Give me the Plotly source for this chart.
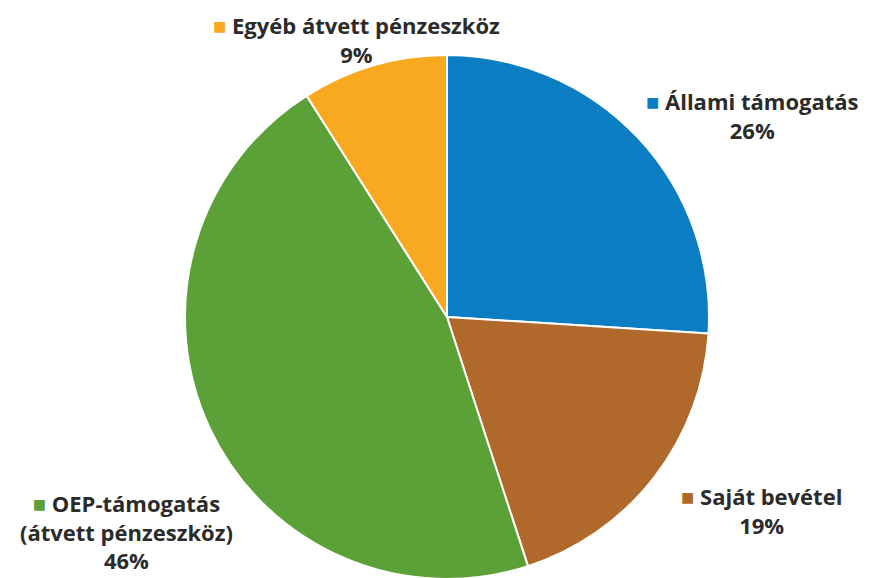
import plotly.graph_objects as go

labels = ["Állami támogatás", "Saját bevétel", "OEP-támogatás<br>(átvett pénzeszköz)", "Egyéb átvett pénzeszköz"]
values = [26, 19, 46, 9]
colors = ["#0a7dc3", "#b0692a", "#5ca137", "#f8a91f"]

W, H = 879, 578
OFF = 8  # page body margin
# label anchor positions in page pixels (center x, center y of the text block)
label_pos = [(752, 116), (761, 510), (126, 531), (356, 39)]

fig = go.Figure(go.Pie(
    labels=labels, values=values, sort=False, direction="clockwise", rotation=0,
    marker=dict(colors=colors, line=dict(color="white", width=2)),
    textinfo="none", hoverinfo="label+percent", showlegend=False,
    domain=dict(x=[(185 - OFF) / W, (709 - OFF) / W], y=[(OFF - 1) / H, 1 - (55 - OFF) / H]),
))

for lab, v, c, (px, py) in zip(labels, values, colors, label_pos):
    fig.add_annotation(
        x=(px - OFF) / W, y=1 - (py - OFF) / H, xref="paper", yref="paper",
        xanchor="center", yanchor="middle", showarrow=False, align="center",
        text=f'<span style="color:{c}">■</span> {lab}<br>{v}%',
        font=dict(family="Open Sans", size=22, color="#2b2b2b", weight="bold"),
    )

fig.update_layout(width=W, height=H, margin=dict(l=0, r=0, t=0, b=0),
                  paper_bgcolor="white", plot_bgcolor="white")
fig.write_html("out.html")
